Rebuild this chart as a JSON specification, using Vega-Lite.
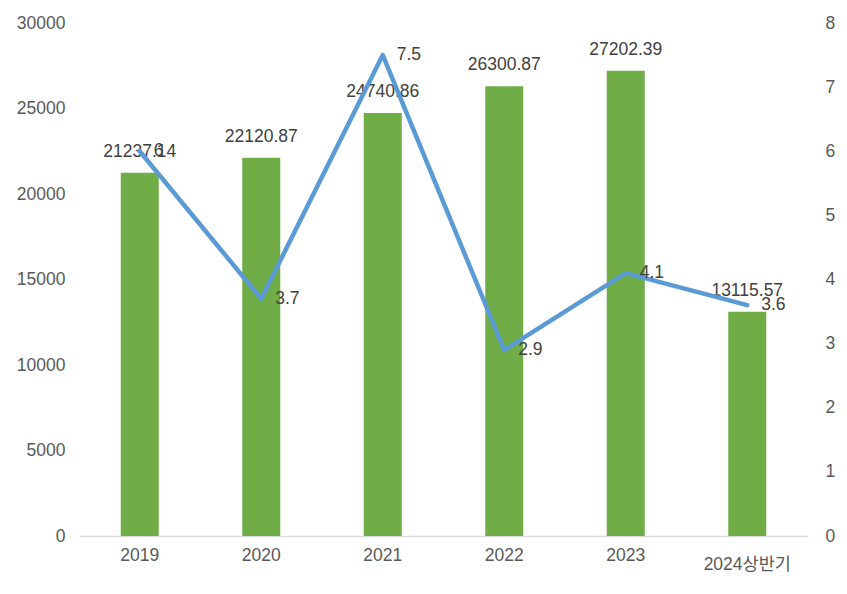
{
  "$schema": "https://vega.github.io/schema/vega-lite/v6.json",
  "width": 729,
  "height": 513,
  "autosize": "none",
  "padding": {"left": 79, "top": 23, "right": 39, "bottom": 58},
  "background": "white",
  "config": {
    "view": {"stroke": null},
    "font": "Liberation Sans",
    "axis": {"labelFont": "Liberation Sans, Noto Sans CJK KR", "labelFontSize": 17.5, "labelColor": "#595959", "grid": false, "ticks": false, "title": null}
  },
  "data": {"values": [
    {"period": "2019", "amount": 21237.14, "amountLabel": "21237.14", "rate": 6, "rateLabel": "6"},
    {"period": "2020", "amount": 22120.87, "amountLabel": "22120.87", "rate": 3.7, "rateLabel": "3.7"},
    {"period": "2021", "amount": 24740.86, "amountLabel": "24740.86", "rate": 7.5, "rateLabel": "7.5"},
    {"period": "2022", "amount": 26300.87, "amountLabel": "26300.87", "rate": 2.9, "rateLabel": "2.9"},
    {"period": "2023", "amount": 27202.39, "amountLabel": "27202.39", "rate": 4.1, "rateLabel": "4.1"},
    {"period": "2024상반기", "amount": 13115.57, "amountLabel": "13115.57", "rate": 3.6, "rateLabel": "3.6"}
  ]},
  "encoding": {
    "x": {"field": "period", "type": "nominal", "sort": null,
      "scale": {"paddingInner": 0.2, "paddingOuter": 0.1},
      "axis": {"labelAngle": 0, "domainColor": "#D9D9D9", "domainWidth": 1.5,
        "labelPadding": {"condition": {"test": "datum.value == '2024상반기'", "value": 19}, "value": 10}}}
  },
  "layer": [
    {
      "layer": [
        {"mark": {"type": "bar", "color": "#70AD47", "width": 38},
          "encoding": {"y": {"field": "amount", "type": "quantitative",
            "scale": {"domain": [0, 30000]},
            "axis": {"values": [0, 5000, 10000, 15000, 20000, 25000, 30000], "domain": false, "labelPadding": 14, "format": "d"}}}},
        {"mark": {"type": "text", "baseline": "bottom", "dy": -12, "fontSize": 17.5, "color": "#404040", "font": "Liberation Sans"},
          "encoding": {"y": {"field": "amount", "type": "quantitative"}, "text": {"field": "amountLabel"}}}
      ]
    },
    {
      "layer": [
        {"mark": {"type": "line", "color": "#5B9BD5", "strokeWidth": 4.5, "strokeJoin": "round", "strokeCap": "round"},
          "encoding": {"y": {"field": "rate", "type": "quantitative",
            "scale": {"domain": [0, 8]},
            "axis": {"orient": "right", "values": [0, 1, 2, 3, 4, 5, 6, 7, 8], "domain": false, "labelPadding": 17, "format": "d"}}}},
        {"mark": {"type": "text", "align": "left", "baseline": "middle", "dx": 14, "fontSize": 17.5, "color": "#404040", "font": "Liberation Sans"},
          "encoding": {"y": {"field": "rate", "type": "quantitative"}, "text": {"field": "rateLabel"}}}
      ]
    }
  ],
  "resolve": {"scale": {"y": "independent"}}
}
